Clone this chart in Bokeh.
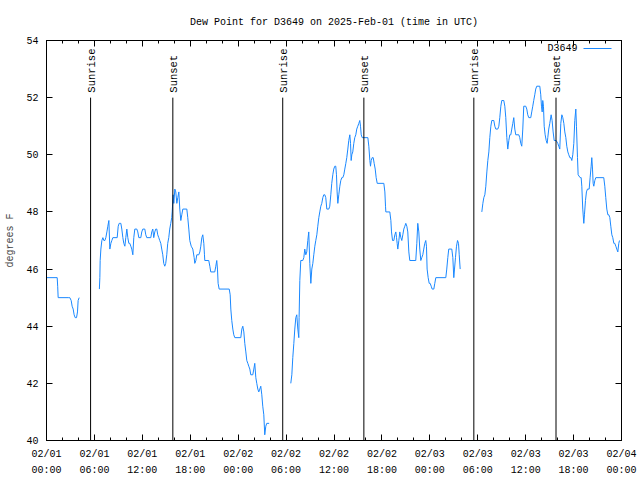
import math
from bokeh.plotting import figure
from bokeh.models import Range1d, FixedTicker, LinearAxis, Label, BoxAnnotation
from bokeh.core.properties import value
from bokeh.embed import file_html
from bokeh.resources import INLINE

# hours since 2025-02-01 00:00 UTC, dew point in degrees F
seg1_hours = [0.05, 1.34, 1.40, 1.46, 2.79, 2.92, 3.09, 3.21, 3.34, 3.46, 3.59, 3.76, 3.88, 3.96, 4.09]
seg1_dewpt = [45.7, 45.7, 45.4, 45.0, 45.0, 45.0, 44.9, 44.7, 44.6, 44.4, 44.3, 44.3, 44.5, 44.9, 45.0]

seg2_hours = [6.62, 6.68, 6.72, 6.81, 6.93, 7.06, 7.18, 7.31, 7.43, 7.56, 7.68, 7.81, 7.93, 8.06, 8.18,
              8.31, 8.85, 8.98, 9.10, 9.31, 9.43, 9.56, 9.68, 9.81, 9.93, 10.06, 10.18, 10.31, 10.43,
              10.56, 10.68, 10.81, 10.93, 11.06, 11.31, 11.43, 11.56, 11.81, 11.93, 12.06, 12.31, 12.43,
              12.56, 13.06, 13.18, 13.31, 13.43, 13.56, 13.68, 13.81, 13.93, 14.06, 14.18, 14.31, 14.43,
              14.56, 14.68, 14.81, 14.93, 15.06, 15.18, 15.31, 15.43, 15.56, 15.68, 15.74, 15.86, 15.94,
              16.07, 16.19, 16.32, 16.44, 16.57, 16.69, 16.82, 16.94, 17.07, 17.57, 17.69, 17.82, 17.94,
              18.12, 18.32, 18.49, 18.57, 18.70, 18.82, 19.07, 19.20, 19.32, 19.45, 19.57, 19.70, 19.78,
              19.82, 20.32, 20.45, 20.57, 21.07, 21.20, 21.32, 21.41, 21.49, 21.62, 22.88, 23.00, 23.08,
              23.20, 23.33, 23.45, 23.58, 24.33, 24.46, 24.58, 24.71, 24.83, 24.96, 25.08, 25.21, 25.33,
              25.46, 25.58, 25.83, 25.96, 26.08, 26.21, 26.33, 26.46, 26.58, 26.71, 26.83, 26.96, 27.08,
              27.21, 27.33, 27.46, 27.58, 27.88]
seg2_dewpt = [45.3, 45.7, 46.3, 46.7, 47.0, 47.1, 47.0, 47.0, 47.1, 47.3, 47.5, 47.7, 46.7, 46.9, 47.0,
              47.1, 47.1, 47.5, 47.6, 47.6, 47.4, 47.1, 46.9, 46.8, 47.1, 47.4, 47.1, 46.9, 46.9,
              46.8, 46.7, 46.5, 47.1, 47.4, 47.4, 47.3, 47.1, 47.1, 47.3, 47.4, 47.4, 47.2,
              47.1, 47.1, 47.3, 47.4, 47.1, 47.3, 47.4, 47.4, 47.2, 47.1, 47.0, 46.9, 46.7,
              46.5, 46.2, 46.1, 46.2, 46.5, 46.9, 47.1, 47.4, 47.6, 47.8, 48.0, 48.6, 48.3,
              48.8, 48.7, 48.3, 48.5, 48.7, 48.1, 47.7, 47.9, 48.1, 48.1, 47.8, 47.4, 47.0,
              46.8, 46.7, 46.4, 46.2, 46.3, 46.5, 46.5, 46.6, 46.8, 47.1, 47.2, 46.9, 46.5,
              46.3, 46.3, 46.1, 45.9, 45.9, 46.1, 46.3, 46.0, 45.5, 45.3, 45.3, 45.1, 44.6,
              44.2, 43.9, 43.7, 43.6, 43.6, 43.9, 44.0, 43.8, 43.4, 43.1, 42.8, 42.7, 42.6,
              42.5, 42.3, 42.3, 42.5, 42.7, 42.2, 42.0, 41.8, 41.7, 41.8, 41.9, 41.6, 41.2,
              40.9, 40.2, 40.5, 40.6, 40.6]

seg3_hours = [30.59, 30.72, 30.84, 30.97, 31.09, 31.22, 31.34, 31.47, 31.59, 31.63, 31.72, 31.84, 32.09,
              32.22, 32.34, 32.47, 32.59, 32.72, 32.84, 32.97, 33.10, 33.22, 33.35, 33.47, 33.60, 33.72,
              33.85, 33.97, 34.10, 34.22, 34.35, 34.47, 34.60, 34.72, 34.85, 34.97, 35.10, 35.35, 35.47,
              35.60, 35.72, 35.85, 35.97, 36.10, 36.22, 36.31, 36.39, 36.48, 36.60, 36.73, 36.85, 36.98,
              37.10, 37.23, 37.35, 37.48, 37.60, 37.73, 37.85, 37.98, 38.07, 38.15, 38.23, 38.35, 38.48,
              38.60, 38.73, 38.85, 38.98, 39.11, 39.23, 39.32, 39.41, 39.53, 40.24, 40.36, 40.49, 40.57,
              40.66, 40.78, 40.91, 41.03, 41.16, 41.28, 41.41, 42.24, 42.37, 42.45, 42.49, 42.99, 43.12,
              43.20, 43.33, 43.49, 43.62, 43.74, 43.83, 43.91, 43.99, 44.12, 44.24, 44.37, 44.49, 44.62,
              44.74, 44.87, 44.99, 45.12, 45.24, 45.37, 45.49, 46.24, 46.37, 46.49, 46.62, 46.74, 46.87,
              46.99, 47.12, 47.24, 47.37, 47.49, 47.58, 47.66, 47.79, 47.92, 48.04, 48.17, 48.29, 48.50,
              48.62, 48.75, 50.00, 50.12, 50.25, 50.37, 50.75, 50.88, 51.00, 51.09, 51.21, 51.34, 51.47,
              51.59, 51.68, 51.80]
seg3_dewpt = [42.0, 42.3, 42.9, 43.4, 43.9, 44.3, 44.4, 43.9, 43.6, 44.3, 45.6, 46.3, 46.3,
              46.4, 46.7, 46.5, 46.6, 47.0, 47.3, 46.2, 45.5, 46.0, 46.2, 46.5, 46.8, 47.0,
              47.2, 47.5, 47.8, 48.0, 48.2, 48.3, 48.5, 48.6, 48.6, 48.5, 48.1, 48.1, 48.2,
              48.6, 49.0, 49.3, 49.5, 49.6, 49.6, 49.3, 48.7, 48.3, 48.6, 48.9, 49.1, 49.2,
              49.2, 49.3, 49.5, 49.7, 49.9, 50.2, 50.5, 50.7, 50.4, 49.8, 50.0, 50.1, 50.4,
              50.6, 50.7, 50.9, 51.0, 51.1, 51.2, 51.0, 50.7, 50.6, 50.6, 50.3, 49.8, 49.6,
              49.8, 49.9, 49.9, 49.7, 49.5, 49.2, 49.0, 49.0, 48.7, 48.2, 48.0, 48.0, 47.7,
              47.3, 47.0, 47.0, 47.2, 47.3, 47.1, 46.9, 46.7, 47.0, 47.3, 47.1, 47.0, 47.2,
              47.4, 47.5, 47.6, 47.5, 47.3, 46.6, 46.3, 46.3, 46.9, 47.6, 47.3, 46.7, 46.3,
              46.4, 46.5, 46.7, 46.9, 47.0, 46.8, 46.0, 45.7, 45.5, 45.5, 45.4, 45.3, 45.3,
              45.5, 45.7, 45.7, 46.0, 46.4, 46.7, 46.7, 46.4, 45.7, 46.0, 46.4, 46.8, 47.0,
              46.9, 46.5, 46.0]

seg4_hours = [54.51, 54.64, 54.76, 54.89, 55.01, 55.14, 55.26, 55.39, 55.51, 55.64, 55.76, 56.01, 56.14,
              56.26, 56.51, 56.64, 56.76, 56.89, 57.01, 57.26, 57.39, 57.51, 57.64, 57.76, 57.89, 58.01,
              58.14, 58.26, 58.39, 58.51, 58.64, 58.76, 59.14, 59.26, 59.39, 59.51, 59.64, 59.76, 60.01,
              60.14, 60.26, 60.39, 60.64, 60.76, 60.89, 61.01, 61.14, 61.26, 61.39, 61.77, 61.89, 61.98,
              62.07, 62.14, 62.23, 62.32, 62.44, 62.57, 62.69, 62.77, 62.89, 63.02, 63.19, 63.31, 63.44,
              63.57, 63.82, 64.02, 64.15, 64.27, 64.40, 64.53, 64.65, 64.78, 64.90, 65.03, 65.15, 65.28,
              65.40, 65.53, 65.65, 65.78, 65.90, 66.03, 66.15, 66.28, 66.36, 66.49, 66.57, 66.82, 66.95,
              67.03, 67.15, 67.28, 67.36, 67.49, 67.61, 67.74, 67.95, 68.07, 68.20, 68.28, 68.37, 68.45,
              68.53, 68.66, 68.78, 69.78, 69.91, 70.03, 70.16, 70.29, 70.41, 70.54, 70.66, 70.79, 70.91,
              71.04, 71.16, 71.29, 71.41, 71.54, 71.66, 71.75]
seg4_dewpt = [48.0, 48.3, 48.5, 48.6, 48.9, 49.4, 49.8, 50.1, 50.6, 51.0, 51.2, 51.2, 51.0,
              50.9, 50.9, 51.0, 51.3, 51.7, 51.9, 51.9, 51.7, 51.3, 50.6, 50.2, 50.5, 50.7,
              50.7, 50.9, 51.1, 51.3, 50.9, 50.7, 50.7, 50.6, 50.4, 50.3, 50.9, 51.7, 51.7,
              51.6, 51.4, 51.3, 51.3, 51.5, 51.7, 51.9, 52.1, 52.3, 52.4, 52.4, 52.1, 51.7,
              51.5, 51.9, 51.7, 51.0, 50.7, 50.5, 50.4, 50.6, 50.9, 51.1, 51.4, 51.2, 50.8,
              50.5, 50.5, 50.4, 50.3, 50.2, 51.1, 51.4, 51.3, 51.1, 50.8, 50.6, 50.3, 50.1,
              50.0, 49.9, 49.9, 49.8, 50.0, 50.4, 51.2, 51.6, 51.0, 49.9, 49.3, 49.2, 49.2,
              48.9, 48.1, 47.6, 47.9, 48.4, 48.7, 48.8, 48.8, 49.2, 49.6, 49.9, 49.5, 49.0,
              48.9, 49.1, 49.2, 49.2, 48.9, 48.5, 48.1, 47.9, 47.9, 47.8, 47.5, 47.2, 47.1,
              46.9, 46.9, 46.8, 46.7, 46.6, 46.9, 47.0]

event_hours = [5.52, 15.82, 29.58, 39.74, 53.51, 63.80]
event_names = ["Sunrise", "Sunset", "Sunrise", "Sunset", "Sunrise", "Sunset"]
event_top = 52

x_ticks = [0, 6, 12, 18, 24, 30, 36, 42, 48, 54, 60, 66, 72]
x_minor = [h for h in range(0, 73, 2)]
x_labels = ["02/01\n00:00", "02/01\n06:00", "02/01\n12:00", "02/01\n18:00",
            "02/02\n00:00", "02/02\n06:00", "02/02\n12:00", "02/02\n18:00",
            "02/03\n00:00", "02/03\n06:00", "02/03\n12:00", "02/03\n18:00",
            "02/04\n00:00"]
y_ticks = [40, 42, 44, 46, 48, 50, 52, 54]

FONT = "Liberation Mono"
FS = "10px"
BLUE = "#1a88ff"

p = figure(width=640, height=480, output_backend="svg", toolbar_location=None,
           x_range=Range1d(0, 72), y_range=Range1d(40, 54),
           min_border_left=46, min_border_right=19, min_border_top=40, min_border_bottom=40)
p.xgrid.visible = False
p.ygrid.visible = False
p.outline_line_color = "black"
p.outline_line_alpha = 1.0
p.background_fill_color = "white"
p.border_fill_color = "white"

p.title.text = "Dew Point for D3649 on 2025-Feb-01 (time in UTC)"
p.title.align = "center"
p.title.text_font = FONT
p.title.text_font_size = FS
p.title.text_font_style = "normal"
p.title.text_color = "black"
p.title.standoff = 26

def style_axis(ax, ticker, labels=True):
    ax.ticker = ticker
    ax.axis_line_color = "black"
    ax.major_tick_line_color = "black"
    ax.minor_tick_line_color = "black"
    ax.major_tick_in = 6
    ax.major_tick_out = 0
    ax.minor_tick_in = 3
    ax.minor_tick_out = 0
    ax.major_label_text_font = FONT
    ax.major_label_text_color = "black"
    ax.major_label_text_font_size = FS
    if not labels:
        ax.major_label_overrides = {t: "" for t in ticker.ticks}
        ax.major_label_standoff = 0

xt = FixedTicker(ticks=x_ticks, minor_ticks=x_minor)
yt = FixedTicker(ticks=y_ticks, minor_ticks=[])

bx = p.xaxis[0]
style_axis(bx, xt)
bx.major_label_overrides = {t: l for t, l in zip(x_ticks, x_labels)}
bx.major_label_standoff = 8
bx.major_label_text_line_height = 1.5

ly = p.yaxis[0]
style_axis(ly, yt)
ly.major_label_standoff = 8
ly.axis_label = "degrees F"
ly.axis_label_text_font = FONT
ly.axis_label_text_font_size = FS
ly.axis_label_text_font_style = "normal"
ly.axis_label_standoff = 7

top = LinearAxis()
style_axis(top, FixedTicker(ticks=x_ticks, minor_ticks=x_minor), labels=False)
p.add_layout(top, "above")
right = LinearAxis()
style_axis(right, FixedTicker(ticks=y_ticks, minor_ticks=[]), labels=False)
p.add_layout(right, "right")

for hx, dy in [(seg1_hours, seg1_dewpt), (seg2_hours, seg2_dewpt),
               (seg3_hours, seg3_dewpt), (seg4_hours, seg4_dewpt)]:
    p.line(hx, dy, line_color=BLUE, line_width=1)

p.segment(x0=event_hours, y0=[p.y_range.start] * len(event_hours),
          x1=event_hours, y1=[event_top] * len(event_hours),
          line_color="black", line_width=1)
p.text(x=event_hours, y=[event_top] * len(event_hours), text=event_names,
       angle=math.pi / 2, text_align="left", text_baseline="middle",
       x_offset=1, y_offset=-5,
       text_font=value(FONT), text_font_size="10.5px", text_color="black")

leg_text = Label(x=531, y=392, x_units="screen", y_units="screen", text="D3649",
                 text_align="right", text_baseline="middle",
                 text_font=FONT, text_font_size=FS, text_color="black")
p.add_layout(leg_text)
leg_line = BoxAnnotation(left=537, right=565, bottom=391.5, top=392.5,
                         left_units="screen", right_units="screen",
                         bottom_units="screen", top_units="screen",
                         fill_color=BLUE, fill_alpha=1.0, line_color=None)
p.add_layout(leg_line)

open("out.html", "w").write(file_html(p, INLINE))
